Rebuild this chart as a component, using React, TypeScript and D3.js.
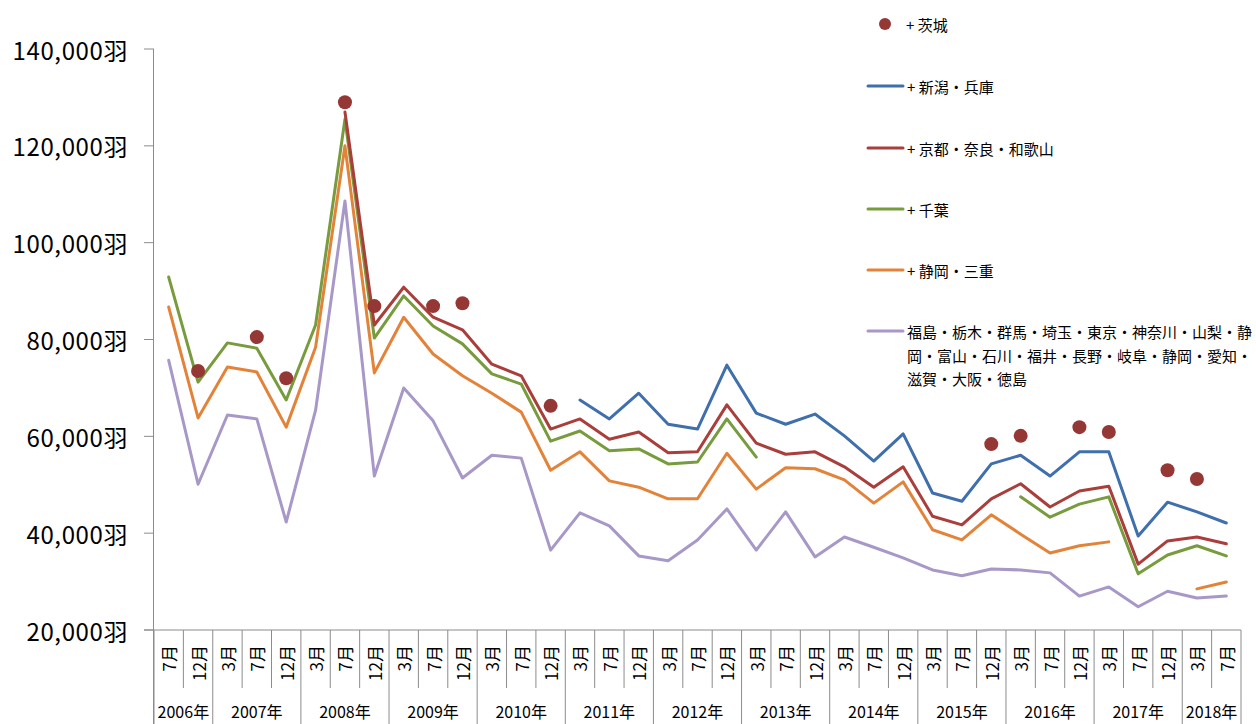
import React from "react";
import * as d3 from "d3";

const months = [
  "7月", "12月",
  "3月", "7月", "12月",
  "3月", "7月", "12月",
  "3月", "7月", "12月",
  "3月", "7月", "12月",
  "3月", "7月", "12月",
  "3月", "7月", "12月",
  "3月", "7月", "12月",
  "3月", "7月", "12月",
  "3月", "7月", "12月",
  "3月", "7月", "12月",
  "3月", "7月", "12月",
  "3月", "7月",
];
const years = ["2006年", "2007年", "2008年", "2009年", "2010年", "2011年", "2012年", "2013年", "2014年", "2015年", "2016年", "2017年", "2018年"];
const yearCounts = [2, 3, 3, 3, 3, 3, 3, 3, 3, 3, 3, 3, 2];

const yTicks = [20000, 40000, 60000, 80000, 100000, 120000, 140000];

const N = null;
// 茨城 (dots)
const ibaraki: (number | null)[] = [N, 73500, N, 80500, 72000, N, 129000, 86900, N, 86900, 87500, N, N, 66300, N, N, N, N, N, N, N, N, N, N, N, N, N, N, 58400, 60100, N, 61900, 60900, N, 53000, 51200, N];
// 新潟・兵庫
const niigata: (number | null)[] = [N, N, N, N, N, N, N, N, N, N, N, N, N, N, 67500, 63600, 68900, 62500, 61500, 74700, 64800, 62500, 64600, 60100, 54900, 60500, 48300, 46600, 54300, 56100, 51800, 56800, 56800, 39400, 46400, 44400, 42100];
// 京都・奈良・和歌山
const kyoto: (number | null)[] = [N, N, N, N, N, N, 127000, 83000, 90800, 84600, 82000, 74900, 72500, 61500, 63600, 59400, 60900, 56600, 56800, 66500, 58600, 56300, 56800, 53700, 49500, 53700, 43500, 41700, 47100, 50200, 45400, 48700, 49700, 33600, 38400, 39200, 37800];
// 千葉
const chiba: (number | null)[] = [92900, 71200, 79300, 78200, 67500, 83000, 125500, 80300, 89000, 82800, 79100, 72900, 70800, 59000, 61100, 57000, 57400, 54300, 54700, 63600, 55700, N, N, N, N, N, N, N, N, 47500, 43300, 46000, 47500, 31600, 35500, 37400, 35300];
// 静岡・三重
const shizuoka: (number | null)[] = [86700, 63800, 74300, 73300, 61900, 78400, 120000, 73100, 84600, 77000, 72500, 68900, 65000, 53000, 56800, 50800, 49500, 47100, 47100, 56500, 49100, 53500, 53300, 51000, 46200, 50600, 40700, 38600, 43800, 39800, 35900, 37400, 38200, N, N, 28500, 29900];
// 福島・栃木・…
const base: (number | null)[] = [75700, 50100, 64400, 63600, 42300, 65400, 108600, 51800, 70000, 63200, 51400, 56100, 55500, 36500, 44200, 41500, 35300, 34300, 38600, 45000, 36500, 44400, 35100, 39200, 37100, 34900, 32400, 31200, 32600, 32400, 31800, 27000, 28900, 24800, 28000, 26600, 27000];

const lineSeries = [
  { name: "+ 新潟・兵庫", values: niigata, color: "#3F6FAD" },
  { name: "+ 京都・奈良・和歌山", values: kyoto, color: "#A93E3B" },
  { name: "+ 千葉", values: chiba, color: "#779B3D" },
  { name: "+ 静岡・三重", values: shizuoka, color: "#E3833A" },
  { name: "福島・栃木・群馬・埼玉・東京・神奈川・山梨・静|岡・富山・石川・福井・長野・岐阜・静岡・愛知・|滋賀・大阪・徳島", values: base, color: "#A898C8" },
];
const drawOrder = [4, 3, 2, 1, 0];
const dotName = "+ 茨城";
const dotColor = "#953735";

const FONT = "'Noto Sans CJK JP', 'Noto Sans', sans-serif";

export default function App() {
  const W = 1256, H = 724;
  const left = 154, right = 1241, top = 49, bottom = 630;
  const idx = months.map((_, i) => i);
  const x = d3.scaleBand<number>().domain(idx).range([left, right]).padding(0);
  const cx = (i: number) => (x(i) as number) + x.bandwidth() / 2;
  const y = d3.scaleLinear().domain([20000, 140000]).range([bottom, top]);
  const line = d3
    .line<number | null>()
    .defined((d) => d != null)
    .x((_, i) => cx(i))
    .y((d) => y(d as number));
  const axisColor = "#8C8C8C";

  const yearStarts: number[] = [];
  let acc = 0;
  yearCounts.forEach((c) => {
    yearStarts.push(acc);
    acc += c;
  });

  const legendY = [24, 86, 148, 209, 270, 331];

  return (
    <svg width={W} height={H} style={{ position: "absolute", left: 0, top: 0, background: "#fff" }} fontFamily={FONT}>
      {/* y axis */}
      <line x1={left - 0.5} x2={left - 0.5} y1={top} y2={H} stroke={axisColor} strokeWidth={1} />
      {yTicks.map((t) => (
        <g key={t}>
          <line x1={left - 10} x2={left} y1={y(t)} y2={y(t)} stroke={axisColor} strokeWidth={1} />
          <text x={128} y={y(t)} textAnchor="end" dominantBaseline="central" fontSize={24} letterSpacing={0.6} fill="#000">
            {d3.format(",")(t)}羽
          </text>
        </g>
      ))}
      {/* x axis */}
      <line x1={left - 10} x2={right} y1={bottom} y2={bottom} stroke={axisColor} strokeWidth={1} />
      {d3.range(months.length + 1).map((i) => {
        const bx = i < months.length ? (x(i) as number) : right;
        const isYear = yearStarts.includes(i) || i === months.length;
        return (
          <line key={"sep" + i} x1={bx} x2={bx} y1={bottom} y2={isYear ? H : 688} stroke={axisColor} strokeWidth={1} />
        );
      })}
      {months.map((m, i) => (
        <text
          key={"m" + i}
          transform={`translate(${cx(i)},645) rotate(-90)`}
          textAnchor="end"
          dominantBaseline="central"
          fontSize={17}
          fill="#000"
        >
          {m}
        </text>
      ))}
      {years.map((yl, k) => {
        const s = yearStarts[k];
        const e = s + yearCounts[k] - 1;
        const mid = ((x(s) as number) + (x(e) as number) + x.bandwidth()) / 2;
        return (
          <text key={yl} x={mid} y={711} textAnchor="middle" dominantBaseline="central" fontSize={16} fill="#000">
            {yl}
          </text>
        );
      })}
      {/* lines */}
      {drawOrder.map((k) => {
        const s = lineSeries[k];
        return (
          <path
            key={s.name}
            d={line(s.values) || ""}
            fill="none"
            stroke={s.color}
            strokeWidth={3}
            strokeLinejoin="round"
            strokeLinecap="round"
          />
        );
      })}
      {/* dots */}
      {ibaraki.map((v, i) =>
        v == null ? null : <circle key={"d" + i} cx={cx(i)} cy={y(v)} r={7} fill={dotColor} />
      )}
      {/* legend */}
      <circle cx={885} cy={legendY[0]} r={6} fill={dotColor} />
      <text x={906} y={legendY[0]} dominantBaseline="central" fontSize={15} fill="#000">
        {dotName}
      </text>
      {lineSeries.map((s, k) => {
        const ly = legendY[k + 1];
        const parts = s.name.split("|");
        return (
          <g key={"lg" + k}>
            <line x1={868} x2={903} y1={ly} y2={ly} stroke={s.color} strokeWidth={3} strokeLinecap="round" />
            <text x={907} y={ly} dominantBaseline="central" fontSize={15} fill="#000">
              {parts.map((p, j) => (
                <tspan key={j} x={907} dy={j === 0 ? 0 : 23.5}>
                  {p}
                </tspan>
              ))}
            </text>
          </g>
        );
      })}
    </svg>
  );
}
